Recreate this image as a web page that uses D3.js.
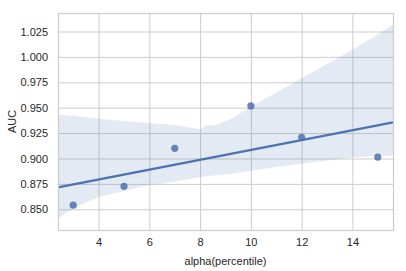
<!DOCTYPE html>
<html>
<head>
<meta charset="utf-8">
<script src="https://cdn.jsdelivr.net/npm/d3@7"></script>
<style>
  body { margin: 0; background: #fff; }
  text { font-family: "Liberation Sans", Arial, sans-serif; fill: #262626; }
</style>
</head>
<body>
<svg id="chart" width="406" height="271"></svg>
<script>
// variable definition
var WIDTH = 406;
var HEIGHT = 271;
var MARGIN = { left: 58, top: 13, right: 13, bottom: 41 };
var BODY_W = WIDTH - MARGIN.left - MARGIN.right;
var BODY_H = HEIGHT - MARGIN.top - MARGIN.bottom;
var BLUE = "#4c72b0";

// scatter points
var ALPHA = [3, 5, 7, 10, 12, 15];
var AUC = [0.854, 0.8726, 0.910, 0.9517, 0.9209, 0.9014];

// fitted line end points
var LINE_X = [2.4, 15.6];
var LINE_Y = [0.8716, 0.9356];

// bootstrap confidence band
var BAND_X = [2.4, 3, 4, 5, 6, 7, 8, 8.25, 8.6, 9.25, 10, 11, 12, 13, 14, 15, 15.6];
var BAND_HI = [0.943, 0.942, 0.939, 0.937, 0.935, 0.933, 0.9288, 0.933, 0.9325, 0.9396, 0.951, 0.965, 0.979, 0.993, 1.007, 1.022, 1.032];
var BAND_LO = [0.841, 0.851, 0.862, 0.868, 0.874, 0.8772, 0.8815, 0.8825, 0.8835, 0.885, 0.8878, 0.8915, 0.895, 0.898, 0.901, 0.9025, 0.903];

var X_TICKS = [4, 6, 8, 10, 12, 14];
var Y_TICKS = [0.850, 0.875, 0.900, 0.925, 0.950, 0.975, 1.000, 1.025];

function drawChart() {
    var xScale = d3.scaleLinear()
        .domain([2.4, 15.6])
        .range([0, BODY_W]);

    var yScale = d3.scaleLinear()
        .domain([0.8296, 1.0432])
        .range([BODY_H, 0]);

    var svg = d3.select("#chart");
    var chart = svg.append("g")
        .attr("transform", `translate(${MARGIN.left}, ${MARGIN.top})`);

    // grid
    chart.append("g")
        .attr("transform", `translate(0, ${BODY_H})`)
        .call(d3.axisBottom(xScale).tickValues(X_TICKS).tickSize(-BODY_H).tickFormat(d => d).tickPadding(8))
        .call(g => g.select(".domain").remove())
        .call(g => g.selectAll("line").attr("stroke", "#cccccc").attr("stroke-width", 1))
        .call(g => g.selectAll("text").attr("font-size", 11).attr("fill", "#262626"));

    chart.append("g")
        .call(d3.axisLeft(yScale).tickValues(Y_TICKS).tickSize(-BODY_W).tickFormat(d3.format(".3f")).tickPadding(10))
        .call(g => g.select(".domain").remove())
        .call(g => g.selectAll("line").attr("stroke", "#cccccc").attr("stroke-width", 1))
        .call(g => g.selectAll("text").attr("font-size", 11).attr("fill", "#262626"));

    // confidence band
    var band = BAND_X.map((x, i) => ({ x: x, lo: BAND_LO[i], hi: BAND_HI[i] }));
    chart.append("path")
        .datum(band)
        .attr("fill", BLUE)
        .attr("fill-opacity", 0.15)
        .attr("d", d3.area()
            .x(d => xScale(d.x))
            .y0(d => yScale(d.lo))
            .y1(d => yScale(d.hi)));

    // regression line
    var line = LINE_X.map((x, i) => ({ x: x, y: LINE_Y[i] }));
    chart.append("path")
        .datum(line)
        .attr("fill", "none")
        .attr("stroke", BLUE)
        .attr("stroke-width", 2.2)
        .attr("d", d3.line().x(d => xScale(d.x)).y(d => yScale(d.y)));

    // points
    var pts = ALPHA.map((a, i) => ({ x: a, y: AUC[i] }));
    chart.selectAll("circle")
        .data(pts)
        .enter()
        .append("circle")
        .attr("cx", d => xScale(d.x))
        .attr("cy", d => yScale(d.y))
        .attr("r", 3.6)
        .attr("fill", BLUE)
        .attr("fill-opacity", 0.85);

    // frame
    chart.append("rect")
        .attr("x", 0.5)
        .attr("y", 0.5)
        .attr("width", BODY_W)
        .attr("height", BODY_H)
        .attr("fill", "none")
        .attr("stroke", "#cccccc")
        .attr("stroke-width", 1.2);

    // axis labels
    svg.append("text")
        .attr("x", MARGIN.left + BODY_W / 2)
        .attr("y", 265)
        .attr("text-anchor", "middle")
        .attr("font-size", 11)
        .text("alpha(percentile)");

    svg.append("text")
        .attr("transform", `translate(16, ${MARGIN.top + BODY_H / 2}) rotate(-90)`)
        .attr("text-anchor", "middle")
        .attr("font-size", 11)
        .text("AUC");
}

drawChart();
</script>
</body>
</html>
